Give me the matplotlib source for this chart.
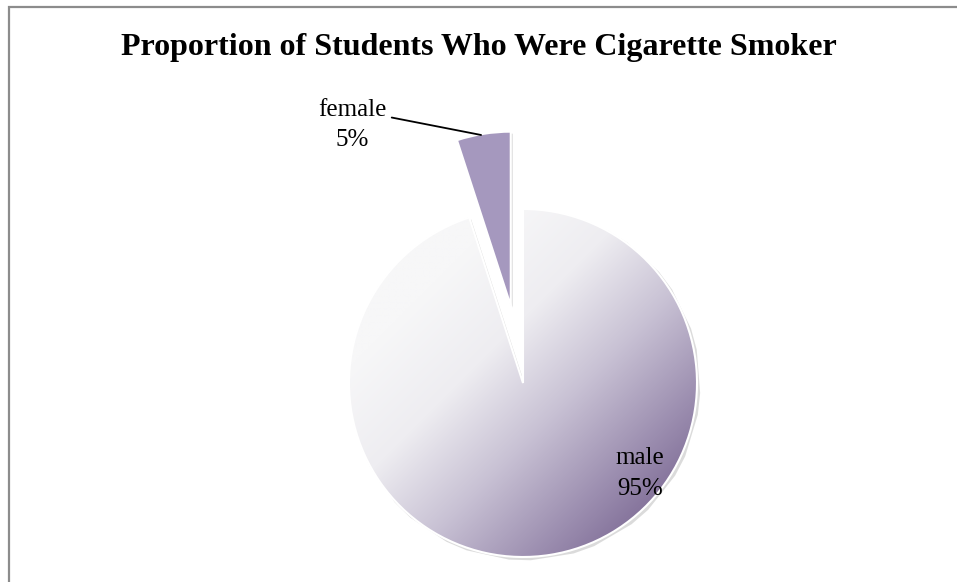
import numpy as np
import matplotlib.pyplot as plt
from matplotlib.colors import LinearSegmentedColormap
from matplotlib.patches import Rectangle
from matplotlib.transforms import Affine2D

labels = ['female', 'male']
shares = [5, 95]
explode = [0.45, 0]

title = 'Proportion of Students Who Were Cigarette Smoker'

plt.rcParams['font.family'] = ['Liberation Serif', 'DejaVu Serif']

fig = plt.figure(figsize=(9.57, 5.82), dpi=100)
ax = fig.add_axes([0, 0, 1, 1])

wedges, _ = ax.pie(shares, explode=explode, startangle=90, counterclock=True,
                   colors=['#a598be', 'none'],
                   wedgeprops=dict(edgecolor='white', linewidth=1.5))

# scale: pie radius 1 = 174 px, centre at (523, 383) from top-left
r_px = 174.0
cx, cy = 523.0, 383.0
ax.set_xlim(-cx / r_px, (957 - cx) / r_px)
ax.set_ylim(-(582 - cy) / r_px, cy / r_px)
ax.set_aspect('auto')
ax.axis('off')

# soft shadows behind the slices
for w in wedges:
    sh = plt.Polygon(w.get_path().transformed(w.get_patch_transform()).vertices,
                     closed=True, facecolor='#9a9a9a', edgecolor='none',
                     alpha=0.35, zorder=0.5)
    sh.set_transform(ax.transData + Affine2D().translate(2, -2))
    ax.add_patch(sh)

# gradient fill for the male slice (light upper-left to purple lower-right)
cmap = LinearSegmentedColormap.from_list(
    'grad', ['#f7f7f8', '#eeedf1', '#c8c1d4', '#9b8daf', '#6f5a88'])
n = 400
gx, gy = np.meshgrid(np.linspace(-1, 1, n), np.linspace(1, -1, n))
g = (gx - gy) / 2.0
g = np.clip((g + 0.55) / 1.45, 0, 1)
im = ax.imshow(g, cmap=cmap, extent=[-1, 1, -1, 1], vmin=0, vmax=1,
               zorder=1, interpolation='bilinear')
im.set_clip_path(wedges[1])
wedges[1].set_zorder(2)
wedges[0].set_zorder(2)

def px(x, y):
    # pixel position (from top-left) -> data coords
    return (x - cx) / r_px, (cy - y) / r_px

# labels
fem = wedges[0]
ang = np.deg2rad((fem.theta1 + fem.theta2) / 2)
ox, oy = fem.center
tip = (ox + np.cos(ang) * 0.99, oy + np.sin(ang) * 0.99)
ax.annotate('', xy=tip, xytext=px(389, 117),
            arrowprops=dict(arrowstyle='-', color='black', lw=1.3))
ax.text(*px(352, 110), labels[0], ha='center', va='center', fontsize=18)
ax.text(*px(352, 140), f'{shares[0]}%', ha='center', va='center', fontsize=18)

ax.text(*px(640, 458), labels[1], ha='center', va='center', fontsize=18)
ax.text(*px(640, 489), f'{shares[1]}%', ha='center', va='center', fontsize=18)

fig.text(0.5, 1 - 48 / 582, title, ha='center', va='center',
         fontsize=23, fontweight='bold')

# chart border
fig.patches.append(Rectangle((9 / 957, -0.05), 1.0, 1 - 7 / 582 + 0.05,
                             transform=fig.transFigure, fill=False,
                             edgecolor='#8c8c8c', linewidth=1.6))

fig.savefig('out.png', dpi=100, facecolor='white')
